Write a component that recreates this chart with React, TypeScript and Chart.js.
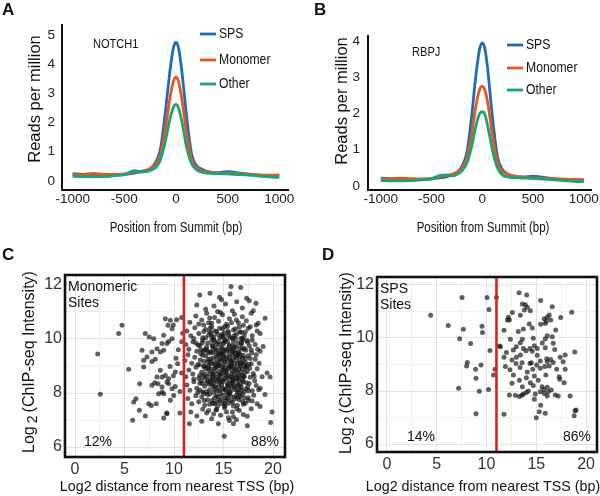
import React, { useEffect, useRef } from "react";
import { Chart, registerables } from "chart.js";

Chart.register(...registerables);

// ---------------- Panels A & B : read profiles around peak summits ----------------
const positions = [-1000, -900, -800, -700, -600, -500, -400, -350, -300, -250, -200, -150, -100, -75, -50, -25, 0, 25, 50, 75, 100, 150, 200, 250, 300, 400, 500, 600, 700, 800, 900, 1000];

const notch1SPS = [0.25, 0.22, 0.21, 0.2, 0.21, 0.22, 0.27, 0.3, 0.33, 0.42, 0.62, 1.1, 2.45, 3.25, 4.0, 4.55, 4.75, 4.55, 3.95, 3.15, 2.3, 0.95, 0.52, 0.4, 0.33, 0.28, 0.32, 0.28, 0.23, 0.2, 0.18, 0.2];
const notch1Monomer = [0.2, 0.22, 0.26, 0.23, 0.22, 0.24, 0.3, 0.33, 0.36, 0.42, 0.55, 0.9, 1.85, 2.45, 3.0, 3.4, 3.55, 3.4, 2.95, 2.35, 1.7, 0.75, 0.45, 0.36, 0.31, 0.27, 0.26, 0.25, 0.23, 0.21, 0.2, 0.2];
const notch1Other = [0.16, 0.15, 0.15, 0.15, 0.18, 0.22, 0.35, 0.33, 0.32, 0.36, 0.45, 0.72, 1.4, 1.85, 2.25, 2.52, 2.62, 2.5, 2.15, 1.7, 1.2, 0.6, 0.38, 0.3, 0.27, 0.25, 0.24, 0.22, 0.2, 0.17, 0.14, 0.12];

const rbpjSPS = [0.22, 0.2, 0.18, 0.18, 0.19, 0.2, 0.23, 0.26, 0.3, 0.38, 0.55, 0.95, 2.05, 2.75, 3.35, 3.8, 3.95, 3.8, 3.3, 2.6, 1.9, 0.8, 0.45, 0.33, 0.28, 0.25, 0.27, 0.24, 0.2, 0.18, 0.16, 0.17];
const rbpjMonomer = [0.18, 0.2, 0.22, 0.2, 0.19, 0.21, 0.27, 0.3, 0.32, 0.38, 0.5, 0.8, 1.5, 2.0, 2.4, 2.68, 2.75, 2.65, 2.35, 1.9, 1.4, 0.65, 0.4, 0.32, 0.28, 0.24, 0.22, 0.21, 0.2, 0.19, 0.18, 0.17];
const rbpjOther = [0.15, 0.14, 0.14, 0.15, 0.17, 0.2, 0.3, 0.3, 0.28, 0.32, 0.42, 0.65, 1.15, 1.5, 1.8, 2.0, 2.05, 1.98, 1.7, 1.35, 0.98, 0.5, 0.3, 0.25, 0.23, 0.22, 0.21, 0.19, 0.17, 0.15, 0.13, 0.12];

const seriesNames = ["SPS", "Monomer", "Other"];
const profileXTicks = [-1000, -500, 0, 500, 1000];
const notch1YTicks = [0, 1, 2, 3, 4, 5];
const rbpjYTicks = [0, 1, 2, 3, 4];

// ---------------- Panels C & D : intensity vs distance to TSS ----------------
const tssXTicks = [0, 2.5, 5, 7.5, 10, 12.5, 15, 17.5, 20];
const tssXLabels = [0, 5, 10, 15, 20];
const intensityYTicks = [6, 7, 8, 9, 10, 11, 12];
const intensityYLabels = [6, 8, 10, 12];
const tssThreshold = 11;
const monomericShare = ["12%", "88%"];
const spsShare = ["14%", "86%"];

const monomericSites: [number, number][] = [
  [2.29, 9.44], [2.56, 7.95], [4.41, 10.2], [4.75, 10.51], [5.42, 8.88], [5.82, 6.99], [5.93, 7.67], [6.16, 7.79],
  [6.53, 8.34], [6.5, 7.36], [6.77, 9.58], [6.94, 9.21], [6.94, 8.96], [7.1, 10.2], [7.1, 7.15], [7.27, 9.33],
  [7.44, 7.6], [7.5, 10.07], [7.71, 7.54], [7.78, 9.52], [7.78, 9.17], [7.78, 8.29], [7.95, 10.01], [8.05, 8.38],
  [8.11, 9.25], [8.21, 7.6], [8.28, 9.64], [8.28, 8.59], [8.38, 8.34], [8.45, 7.97], [8.62, 9.52], [8.62, 8.84],
  [8.79, 9.83], [8.79, 8.59], [8.79, 8.04], [8.79, 8.22], [8.96, 10.14], [8.96, 9.58], [8.96, 7.97], [8.96, 7.07],
  [9.12, 10.75], [9.12, 8.65], [9.29, 9.83], [9.29, 8.41], [9.29, 7.23], [9.39, 10.51], [9.46, 9.91], [9.46, 8.53],
  [9.46, 8.34], [9.63, 10.69], [9.63, 7.73], [9.8, 10.38], [9.8, 10.01], [9.8, 8.16], [9.93, 10.52], [9.97, 7.91],
  [10.13, 8.78], [10.2, 9.29], [10.27, 10.71], [10.37, 9.08], [10.44, 9.6], [10.6, 8.06], [10.6, 7.26], [10.77, 10.8],
  [10.77, 8.74], [10.77, 9.9], [10.87, 10.21], [9.6, 8.98], [9.93, 8.64], [9.26, 7.26], [10.13, 8.24],
  [12.6, 11.63], [13.64, 11.69], [15.66, 11.67], [15.76, 11.94], [16.73, 11.91], [17.34, 11.51], [14.6, 11.55],
  [12.3, 11.26], [14.04, 11.22], [14.8, 11.45], [16.33, 11.38], [18.28, 11.32], [18.0, 11.05], [13.2, 11.1], [15.2, 11.3],
  [16.9, 11.15], [17.6, 11.42], [15.9, 11.05], [14.4, 11.02],
  [11.6, 10.62], [12.2, 10.85], [12.8, 10.7], [13.3, 10.95], [13.8, 10.58], [14.1, 10.8], [14.5, 10.66], [14.9, 10.9],
  [15.3, 10.55], [15.6, 10.75], [16.1, 10.92], [16.5, 10.6], [16.9, 10.82], [17.3, 10.68], [17.8, 10.95], [18.3, 10.52],
  [19.2, 10.77], [18.5, 10.58], [13.0, 10.52], [14.7, 10.98], [15.8, 10.6], [12.5, 10.56], [17.0, 10.51], [13.6, 10.78], [16.3, 10.7],
  [11.3, 10.3], [11.7, 10.12], [12.1, 10.42], [12.5, 10.2], [12.9, 10.05], [13.2, 10.35], [13.5, 10.15], [13.8, 10.45],
  [14.0, 10.08], [14.3, 10.28], [14.6, 10.4], [14.8, 10.1], [15.1, 10.22], [15.4, 10.47], [15.7, 10.05], [16.0, 10.33],
  [16.3, 10.18], [16.6, 10.44], [16.9, 10.02], [17.2, 10.26], [17.5, 10.4], [17.9, 10.12], [18.4, 10.3], [18.7, 10.2],
  [12.0, 10.02], [13.6, 10.26], [14.9, 10.38], [15.5, 10.12], [16.2, 10.03], [15.0, 10.1], [14.4, 10.18], [13.0, 10.28],
  [16.8, 10.25], [17.7, 10.45],
  [11.2, 9.8], [11.5, 9.62], [11.9, 9.9], [12.3, 9.55], [12.6, 9.75], [12.9, 9.95], [13.1, 9.6], [13.4, 9.85],
  [13.7, 9.52], [13.9, 9.72], [14.1, 9.92], [14.4, 9.58], [14.6, 9.8], [14.9, 9.65], [15.1, 9.98], [15.3, 9.55],
  [15.6, 9.78], [15.8, 9.62], [16.0, 9.9], [16.3, 9.7], [16.5, 9.53], [16.8, 9.85], [17.1, 9.66], [17.4, 9.94],
  [17.8, 9.6], [18.2, 9.8], [18.7, 9.55], [19.0, 9.72], [12.7, 9.6], [13.3, 9.7], [14.2, 9.68], [15.0, 9.82],
  [15.4, 9.9], [16.1, 9.57], [16.7, 9.68], [13.8, 9.95], [14.8, 9.52], [15.9, 9.74], [17.0, 9.96], [17.6, 9.75],
  [12.2, 9.85], [14.5, 9.9],
  [11.1, 9.2], [11.4, 9.42], [11.8, 9.1], [12.1, 9.32], [12.4, 9.05], [12.7, 9.45], [13.0, 9.18], [13.2, 9.38],
  [13.5, 9.02], [13.7, 9.27], [13.9, 9.48], [14.1, 9.12], [14.3, 9.35], [14.5, 9.04], [14.7, 9.25], [14.9, 9.45],
  [15.1, 9.15], [15.3, 9.33], [15.5, 9.02], [15.7, 9.22], [15.9, 9.42], [16.1, 9.1], [16.3, 9.3], [16.5, 9.48],
  [16.7, 9.06], [16.9, 9.28], [17.2, 9.15], [17.5, 9.38], [17.8, 9.08], [18.2, 9.25], [18.6, 9.1], [12.9, 9.4],
  [13.4, 9.15], [14.0, 9.3], [14.6, 9.4], [15.0, 9.05], [15.6, 9.45], [16.0, 9.25], [16.6, 9.18], [17.0, 9.4],
  [13.8, 9.08], [14.4, 9.2], [15.2, 9.28], [15.8, 9.1], [16.4, 9.4], [17.3, 9.02],
  [11.2, 8.6], [11.5, 8.85], [11.9, 8.7], [12.2, 8.95], [12.5, 8.55], [12.8, 8.78], [13.0, 8.98], [13.3, 8.62],
  [13.5, 8.84], [13.7, 8.52], [13.9, 8.72], [14.1, 8.92], [14.3, 8.58], [14.5, 8.8], [14.7, 8.65], [14.9, 8.95],
  [15.1, 8.55], [15.3, 8.75], [15.5, 8.9], [15.7, 8.6], [15.9, 8.82], [16.1, 8.68], [16.3, 8.96], [16.5, 8.54],
  [16.7, 8.76], [16.9, 8.88], [17.1, 8.62], [17.4, 8.8], [17.7, 8.58], [18.0, 8.72], [18.4, 8.9], [18.9, 8.6],
  [19.4, 8.74], [19.7, 8.59], [12.0, 8.52], [13.2, 8.9], [14.0, 8.66], [14.8, 8.7], [15.4, 8.62], [16.0, 8.52],
  [16.6, 8.64], [17.2, 8.94], [13.6, 8.7], [14.4, 8.98], [15.0, 8.8], [15.8, 8.98], [16.4, 8.8], [12.6, 8.66],
  [11.3, 8.3], [11.6, 8.1], [12.0, 8.42], [12.3, 8.18], [12.6, 8.36], [12.9, 8.05], [13.1, 8.25], [13.4, 8.45],
  [13.6, 8.12], [13.8, 8.32], [14.0, 8.02], [14.2, 8.22], [14.4, 8.42], [14.6, 8.1], [14.8, 8.3], [15.0, 8.48],
  [15.2, 8.15], [15.4, 8.35], [15.6, 8.05], [15.8, 8.25], [16.0, 8.45], [16.2, 8.12], [16.4, 8.32], [16.6, 8.02],
  [16.8, 8.22], [17.0, 8.42], [17.3, 8.15], [17.6, 8.35], [17.9, 8.08], [18.3, 8.28], [18.7, 8.18], [13.3, 8.38],
  [14.1, 8.15], [14.7, 8.4], [15.3, 8.02], [15.9, 8.38], [16.5, 8.28], [17.1, 8.05], [13.9, 8.48], [15.5, 8.2],
  [16.9, 8.48], [12.4, 8.02], [14.5, 8.26], [16.1, 8.2],
  [11.4, 7.8], [11.8, 7.6], [12.2, 7.9], [12.5, 7.68], [12.8, 7.85], [13.1, 7.55], [13.4, 7.75], [13.6, 7.95],
  [13.9, 7.62], [14.1, 7.82], [14.4, 7.52], [14.6, 7.72], [14.9, 7.92], [15.1, 7.6], [15.4, 7.8], [15.6, 7.98],
  [15.9, 7.65], [16.1, 7.85], [16.4, 7.55], [16.6, 7.75], [16.9, 7.95], [17.2, 7.62], [17.5, 7.82], [17.9, 7.7],
  [18.4, 7.6], [19.19, 7.94], [18.7, 7.5], [13.0, 7.98], [14.3, 7.9], [15.2, 7.7], [16.0, 7.52], [16.7, 7.88],
  [17.0, 7.58], [14.8, 7.6], [15.7, 7.9],
  [11.7, 7.3], [12.3, 7.15], [12.9, 7.4], [13.3, 7.26], [13.8, 7.05], [14.3, 7.38], [14.7, 7.18], [15.1, 7.45],
  [15.5, 7.08], [15.9, 7.3], [16.3, 7.01], [16.6, 7.35], [17.0, 7.2], [17.4, 7.14], [17.8, 7.42], [19.9, 7.3],
  [13.5, 7.35], [14.0, 7.22], [15.3, 7.3], [16.0, 7.12],
  [11.55, 6.86], [14.48, 6.86], [15.08, 6.4], [16.0, 6.86], [17.4, 6.79], [19.76, 6.91], [12.8, 6.95], [15.6, 6.98],
  [13.25, 9.62], [13.45, 8.95], [13.65, 8.42], [13.85, 9.78], [14.05, 8.78], [14.25, 9.52], [14.35, 8.08], [14.55, 9.12],
  [14.65, 8.48], [14.75, 9.68], [14.85, 8.86], [14.95, 9.32], [15.05, 8.12], [15.15, 9.58], [15.25, 8.68], [15.35, 9.18],
  [15.45, 7.95], [15.55, 9.72], [15.65, 8.38], [15.75, 9.02], [15.85, 8.58], [15.95, 9.55], [16.05, 8.92], [16.15, 7.78],
  [16.25, 9.36], [16.35, 8.62], [16.45, 9.86], [16.55, 8.18], [16.65, 9.44], [16.75, 8.34], [16.85, 9.12], [16.95, 7.68],
  [17.15, 8.76], [17.25, 9.58], [17.45, 8.22], [17.55, 9.06], [13.15, 8.55], [13.55, 9.48], [13.95, 8.25], [14.15, 9.05],
  [14.45, 7.86], [14.85, 10.18], [15.15, 7.52], [15.45, 10.3], [15.75, 8.08], [16.05, 10.12], [16.35, 7.42], [16.75, 10.02],
  [13.75, 10.22], [14.25, 7.38], [12.65, 9.22], [12.85, 8.35], [12.45, 9.78], [13.05, 7.72], [17.65, 8.92], [17.85, 9.48],
  [18.15, 8.45], [18.45, 9.62], [18.05, 7.92], [18.55, 8.12],
  [12.55, 9.05], [12.75, 8.45], [12.95, 9.55], [13.1, 8.7], [13.2, 10.05], [13.35, 7.95], [13.45, 9.25], [13.55, 8.32],
  [13.65, 10.4], [13.75, 8.88], [13.85, 7.72], [13.95, 9.62], [14.02, 8.38], [14.12, 10.3], [14.22, 8.95], [14.32, 7.68],
  [14.42, 9.42], [14.52, 8.55], [14.62, 10.05], [14.72, 7.98], [14.82, 9.22], [14.92, 8.42], [15.02, 9.88], [15.12, 8.92],
  [15.22, 7.82], [15.32, 9.62], [15.42, 8.52], [15.52, 10.22], [15.62, 9.32], [15.72, 7.72], [15.82, 8.72], [15.92, 10.02],
  [16.02, 8.28], [16.12, 9.46], [16.22, 8.82], [16.32, 7.92], [16.42, 9.12], [16.52, 8.46], [16.62, 10.26], [16.72, 9.0],
  [16.82, 8.12], [16.92, 9.62], [17.02, 8.58], [17.12, 7.82], [17.22, 9.28], [17.32, 8.38], [17.42, 9.88], [17.52, 8.08],
  [12.6, 8.1], [12.85, 9.85], [13.05, 9.0], [13.3, 8.05], [13.5, 10.6], [13.7, 9.15], [13.9, 8.6], [14.1, 7.6],
  [14.3, 9.82], [14.5, 8.7], [14.7, 9.48], [14.9, 8.18], [15.1, 10.45], [15.3, 8.84], [15.5, 7.62], [15.7, 9.58],
  [15.9, 8.45], [16.1, 9.72], [16.3, 8.52], [16.5, 7.84], [16.7, 9.34], [16.9, 8.66], [17.1, 10.12], [17.3, 8.96],
  [17.5, 7.72], [13.4, 9.55], [13.8, 10.1], [14.2, 8.48], [14.6, 9.02], [15.0, 9.42], [15.4, 8.28], [15.8, 9.18],
  [16.2, 10.38], [16.6, 8.9], [17.0, 9.08], [14.0, 9.98], [14.8, 7.76], [15.6, 8.96], [16.4, 8.05], [12.9, 8.62],
  [13.6, 7.58], [15.2, 9.95], [16.8, 9.82], [17.7, 9.28], [18.1, 8.62], [17.9, 9.95], [18.3, 9.42],
];

const spsSites: [number, number][] = [
  [4.39, 10.86], [6.16, 10.47], [7.54, 11.53], [7.67, 10.33], [7.3, 9.97], [8.4, 9.79], [9.55, 10.44], [9.6, 10.21],
  [8.07, 9.08], [8.0, 8.94], [8.9, 8.82], [9.45, 8.98], [8.94, 8.48], [7.2, 8.1], [9.28, 7.99], [8.94, 7.14],
  [10.05, 11.53], [10.25, 11.07], [10.35, 9.53], [10.7, 8.6], [10.2, 8.06], [10.85, 8.82],
  [11.0, 11.53], [11.3, 9.7], [11.4, 9.67], [12.3, 10.68], [13.27, 11.71], [14.04, 11.62], [15.44, 11.41], [13.6, 11.28],
  [13.9, 11.25], [14.1, 11.16], [13.8, 11.06], [14.4, 11.03], [16.6, 11.18], [12.6, 10.96], [15.8, 10.73], [18.56, 10.97],
  [17.45, 10.77], [12.2, 10.78], [12.1, 10.68], [13.4, 10.86], [14.3, 10.53], [14.6, 10.38], [15.44, 10.52], [16.1, 10.78],
  [16.3, 10.87], [16.45, 10.68], [16.0, 10.62], [15.9, 10.55], [13.7, 10.34], [13.2, 10.24], [11.76, 10.29], [16.95, 10.3],
  [12.4, 9.95], [13.6, 9.95], [13.4, 9.82], [14.7, 9.99], [15.9, 9.96], [16.1, 10.08], [16.6, 10.05], [16.7, 9.8],
  [14.8, 9.71], [15.6, 9.81], [12.7, 9.55], [12.0, 9.45], [13.0, 9.67], [13.7, 9.6], [13.97, 9.52], [14.37, 9.6],
  [14.6, 9.5], [15.1, 9.6], [15.9, 9.63], [16.85, 9.57], [17.9, 9.36], [18.86, 9.47], [13.0, 9.27], [13.4, 9.36],
  [15.1, 9.35], [11.76, 9.27], [12.56, 9.17], [12.97, 9.04], [13.57, 9.07], [14.37, 9.04], [14.5, 9.07], [15.04, 8.98],
  [15.4, 9.13], [16.05, 9.22], [16.1, 9.1], [16.45, 9.19], [16.7, 9.08], [17.4, 9.27], [17.7, 9.1], [11.9, 8.92],
  [12.36, 8.8], [13.37, 8.89], [14.1, 8.72], [14.64, 8.82], [15.4, 8.86], [15.85, 8.92], [16.3, 8.94], [17.05, 8.82],
  [17.9, 8.82], [12.7, 8.6], [13.3, 8.41], [14.0, 8.5], [14.4, 8.31], [14.8, 8.57], [15.2, 8.41], [15.96, 8.6],
  [17.3, 8.54], [17.35, 8.44], [17.8, 8.31], [12.56, 8.29], [13.6, 8.16], [14.7, 8.21], [15.58, 8.16], [16.1, 8.14],
  [15.76, 8.06], [12.3, 7.85], [12.9, 7.84], [13.7, 7.89], [14.2, 8.0], [14.0, 7.94], [14.9, 7.89], [15.4, 7.97],
  [15.8, 7.91], [16.2, 7.97], [16.5, 8.04], [16.9, 7.85], [17.2, 7.81], [16.1, 7.81], [18.4, 7.81], [13.56, 7.84],
  [13.3, 7.79], [14.8, 7.69], [15.44, 7.46], [15.3, 7.22], [15.9, 7.16], [15.0, 6.99], [11.76, 7.12], [18.8, 7.07],
  [18.9, 7.26], [19.0, 7.28],
];

// ---------------- styling helpers ----------------
const SANS = '"Liberation Sans", Arial, Helvetica, sans-serif';
const NARROW = '"Liberation Sans Narrow", "Arial Narrow", monospace';
const BLUE = "#1f6db3";
const ORANGE = "#e6561d";
const GREEN = "#17a673";

const hasNarrow = (() => {
  try {
    const c = document.createElement("canvas").getContext("2d") as CanvasRenderingContext2D;
    c.font = "20px monospace";
    const a = c.measureText("Monomer ABC 1000").width;
    c.font = '20px "Liberation Sans Narrow", monospace';
    const b = c.measureText("Monomer ABC 1000").width;
    return Math.abs(a - b) > 0.5;
  } catch (e) {
    return false;
  }
})();

type Txt = { t: string; x: number; y: number; size: number; align?: CanvasTextAlign; rot?: boolean; sx?: number; color?: string; bold?: boolean };

function drawText(ctx: CanvasRenderingContext2D, it: Txt) {
  ctx.save();
  ctx.font = `${it.bold ? "bold " : ""}${it.size}px ${SANS}`;
  ctx.fillStyle = it.color || "#111";
  ctx.textAlign = it.align || "left";
  ctx.textBaseline = "middle";
  ctx.translate(it.x, it.y);
  if (it.rot) ctx.rotate(-Math.PI / 2);
  ctx.scale(it.sx || 1, 1);
  ctx.fillText(it.t, 0, 0);
  ctx.restore();
}

function drawLog2Title(ctx: CanvasRenderingContext2D, cx: number, cy: number) {
  ctx.save();
  ctx.translate(cx, cy);
  ctx.rotate(-Math.PI / 2);
  const big = `16px ${SANS}`;
  const small = `14px ${SANS}`;
  ctx.font = big;
  const w1 = ctx.measureText("Log").width;
  const w3 = ctx.measureText("(ChIP-seq Intensity)").width;
  ctx.font = small;
  const w2 = ctx.measureText("2").width;
  const gap = 3;
  const total = w1 + gap + w2 + gap + w3;
  let x = -total / 2;
  ctx.textBaseline = "middle";
  ctx.textAlign = "left";
  ctx.fillStyle = "#111";
  ctx.font = big;
  ctx.fillText("Log", x, 0);
  x += w1 + gap;
  ctx.font = small;
  ctx.fillText("2", x, 3);
  x += w2 + gap;
  ctx.font = big;
  ctx.fillText("(ChIP-seq Intensity)", x, 0);
  ctx.restore();
}

function fixedTicks(values: number[]) {
  return (scale: any) => {
    scale.ticks = values.map((v) => ({ value: v }));
  };
}

// ---------------- chart configs ----------------
function profileConfig(p: any) {
  const series = [p.sps, p.mono, p.other];
  const colors = [BLUE, ORANGE, GREEN];
  const tickFont = hasNarrow ? { family: NARROW, size: 16 } : { family: SANS, size: 13.5 };
  const overlay = {
    id: "profileOverlay",
    afterDraw(chart: any) {
      const ctx = chart.ctx as CanvasRenderingContext2D;
      series.forEach((_: any, k: number) => {
        const y = p.legendYs[k];
        ctx.save();
        ctx.strokeStyle = colors[k];
        ctx.lineWidth = 2.8;
        ctx.beginPath();
        ctx.moveTo(p.legendX, y);
        ctx.lineTo(p.legendX + 16, y);
        ctx.stroke();
        ctx.restore();
        drawText(ctx, { t: seriesNames[k], x: p.legendX + 19, y, size: 14.5, sx: 0.84 });
      });
      drawText(ctx, { t: p.label, x: p.labelPos[0], y: p.labelPos[1], size: 13.5, sx: 0.82 });
      drawText(ctx, { t: "Reads per million", x: p.yTitlePos[0], y: p.yTitlePos[1], size: 16.5, rot: true, align: "center" });
      drawText(ctx, { t: "Position from Summit (bp)", x: p.xTitlePos[0], y: p.xTitlePos[1], size: 14, sx: 0.82, align: "center" });
    },
  };
  return {
    type: "line",
    data: {
      datasets: series.map((vals: number[], k: number) => ({
        label: seriesNames[k],
        data: positions.map((x, i) => ({ x, y: vals[i] })),
        borderColor: colors[k],
        backgroundColor: colors[k],
        borderWidth: 2.8,
        pointRadius: 0,
        pointHoverRadius: 0,
        tension: 0.4,
        cubicInterpolationMode: "monotone",
        fill: false,
        order: 3 - k,
      })),
    },
    options: {
      animation: false,
      responsive: false,
      devicePixelRatio: 1,
      events: [],
      layout: { padding: { top: p.padTop, right: p.padRight, left: 0, bottom: 0 } },
      plugins: { legend: { display: false }, tooltip: { enabled: false } },
      scales: {
        x: {
          type: "linear",
          min: p.xMin,
          max: p.xMax,
          afterBuildTicks: fixedTicks(profileXTicks),
          afterFit: (s: any) => {
            s.height = p.xHeight;
          },
          grid: { display: false, drawTicks: false },
          border: { display: true, color: "#111", width: 2 },
          ticks: { color: "#222", font: tickFont, padding: 1, autoSkip: false, maxRotation: 0, callback: (v: any) => String(v) },
        },
        y: {
          type: "linear",
          min: p.yMin,
          max: p.yMax,
          afterBuildTicks: fixedTicks(p.yTicks),
          afterFit: (s: any) => {
            s.width = p.yWidth;
          },
          grid: { display: false, drawTicks: false },
          border: { display: true, color: "#111", width: 2 },
          ticks: { color: "#222", font: tickFont, padding: p.yPad, autoSkip: false, callback: (v: any) => String(v) },
        },
      },
    },
    plugins: [overlay],
  };
}

function sitesConfig(p: any) {
  const overlay = {
    id: "sitesOverlay",
    afterDraw(chart: any) {
      const ctx = chart.ctx as CanvasRenderingContext2D;
      const a = chart.chartArea;
      const xs = chart.scales.x;
      const px = xs.getPixelForValue(tssThreshold);
      ctx.save();
      ctx.strokeStyle = "#e0201c";
      ctx.lineWidth = 2.6;
      ctx.beginPath();
      ctx.moveTo(px, a.top);
      ctx.lineTo(px, a.bottom);
      ctx.stroke();
      ctx.strokeStyle = "#111";
      ctx.lineWidth = 2.6;
      ctx.strokeRect(a.left, a.top, a.right - a.left, a.bottom - a.top);
      ctx.restore();
      drawText(ctx, { t: p.name[0], x: a.left + 3, y: a.top + 12, size: 14 });
      drawText(ctx, { t: p.name[1], x: a.left + 3, y: a.top + 28, size: 14 });
      drawText(ctx, { t: p.share[0], x: p.leftShareX, y: a.bottom - 15, size: 14, align: "center" });
      drawText(ctx, { t: p.share[1], x: a.right - 6, y: a.bottom - 15, size: 14, align: "right" });
      drawLog2Title(ctx, p.yTitlePos[0], p.yTitlePos[1]);
      drawText(ctx, { t: "Log2 distance from nearest TSS (bp)", x: p.xTitlePos[0], y: p.xTitlePos[1], size: 14.3, align: "center" });
    },
  };
  return {
    type: "scatter",
    data: {
      datasets: [
        {
          label: p.name.join(" "),
          data: p.points.map(([x, y]: [number, number]) => ({ x, y })),
          backgroundColor: "rgba(20,20,20,0.68)",
          borderWidth: 0,
          pointRadius: 2.5,
          pointHoverRadius: 2.5,
        },
      ],
    },
    options: {
      animation: false,
      responsive: false,
      devicePixelRatio: 1,
      events: [],
      layout: { padding: { top: p.padTop, right: p.padRight, left: 0, bottom: 0 } },
      plugins: { legend: { display: false }, tooltip: { enabled: false } },
      scales: {
        x: {
          type: "linear",
          min: p.xMin,
          max: p.xMax,
          afterBuildTicks: fixedTicks(tssXTicks),
          afterFit: (s: any) => {
            s.height = p.xHeight;
          },
          grid: {
            color: (c: any) => (c.tick && tssXLabels.includes(c.tick.value) ? "#e2e2e2" : "#f0f0f0"),
            lineWidth: 1,
            drawTicks: false,
          },
          border: { display: false },
          ticks: {
            callback: (v: any) => (tssXLabels.includes(v) ? String(v) : ""),
            autoSkip: false,
            maxRotation: 0,
            font: { family: SANS, size: 16 },
            color: "#333",
            padding: 3,
          },
        },
        y: {
          type: "linear",
          min: p.yMin,
          max: p.yMax,
          afterBuildTicks: fixedTicks(intensityYTicks),
          afterFit: (s: any) => {
            s.width = p.yWidth;
          },
          grid: {
            color: (c: any) => (c.tick && intensityYLabels.includes(c.tick.value) ? "#e2e2e2" : "#f0f0f0"),
            lineWidth: 1,
            drawTicks: false,
          },
          border: { display: false },
          ticks: {
            callback: (v: any) => (intensityYLabels.includes(v) ? String(v) : ""),
            autoSkip: false,
            font: { family: SANS, size: 16 },
            color: "#333",
            padding: 3,
          },
        },
      },
    },
    plugins: [overlay],
  };
}

function ChartPanel({ left, top, width, height, build }: { left: number; top: number; width: number; height: number; build: () => any }) {
  const ref = useRef<HTMLCanvasElement>(null);
  useEffect(() => {
    if (!ref.current) return;
    const chart = new Chart(ref.current, build());
    return () => chart.destroy();
  }, []);
  return (
    <div style={{ position: "absolute", left, top, width, height }}>
      <canvas ref={ref} width={width} height={height} style={{ display: "block", width, height }} />
    </div>
  );
}

const letterStyle = (left: number, top: number): React.CSSProperties => ({
  position: "absolute",
  left,
  top,
  fontFamily: SANS,
  fontWeight: "bold",
  fontSize: 17,
  lineHeight: "17px",
  color: "#111",
});

export default function App() {
  return (
    <div style={{ position: "absolute", left: 0, top: 0, width: 600, height: 496, background: "#fff", overflow: "hidden" }}>
      <ChartPanel
        left={0}
        top={0}
        width={300}
        height={240}
        build={() =>
          profileConfig({
            sps: notch1SPS, mono: notch1Monomer, other: notch1Other,
            xMin: -1103, xMax: 1084, yMin: -0.31, yMax: 5.34, yTicks: notch1YTicks,
            padTop: 25, padRight: 12, yWidth: 62, xHeight: 50, yPad: 7,
            label: "NOTCH1", labelPos: [93, 44],
            yTitlePos: [35, 99], xTitlePos: [176, 228],
            legendX: 200, legendYs: [34, 60, 84],
          })
        }
      />
      <ChartPanel
        left={300}
        top={0}
        width={300}
        height={240}
        build={() =>
          profileConfig({
            sps: rbpjSPS, mono: rbpjMonomer, other: rbpjOther,
            xMin: -1126, xMax: 1078, yMin: -0.11, yMax: 4.14, yTicks: rbpjYTicks,
            padTop: 36, padRight: 5, yWidth: 68, xHeight: 50, yPad: 8,
            label: "RBPJ", labelPos: [112, 52],
            yTitlePos: [42, 101], xTitlePos: [183, 228],
            legendX: 207, legendYs: [45, 68, 90],
          })
        }
      />
      <ChartPanel
        left={0}
        top={240}
        width={300}
        height={256}
        build={() =>
          sitesConfig({
            points: monomericSites, name: ["Monomeric", "Sites"], share: monomericShare,
            xMin: -1.01, xMax: 21.21, yMin: 5.63, yMax: 12.37,
            padTop: 35, padRight: 15, yWidth: 65, xHeight: 39,
            leftShareX: 98, yTitlePos: [30, 122], xTitlePos: [177, 247],
          })
        }
      />
      <ChartPanel
        left={300}
        top={240}
        width={300}
        height={256}
        build={() =>
          sitesConfig({
            points: spsSites, name: ["SPS", "Sites"], share: spsShare,
            xMin: -1.0, xMax: 21.1, yMin: 5.7, yMax: 12.3,
            padTop: 37, padRight: 3, yWidth: 77, xHeight: 44,
            leftShareX: 121, yTitlePos: [47, 123], xTitlePos: [183, 247],
          })
        }
      />
      <div style={letterStyle(2, 1)}>A</div>
      <div style={letterStyle(314, 1)}>B</div>
      <div style={letterStyle(2, 246)}>C</div>
      <div style={letterStyle(322, 246)}>D</div>
    </div>
  );
}
